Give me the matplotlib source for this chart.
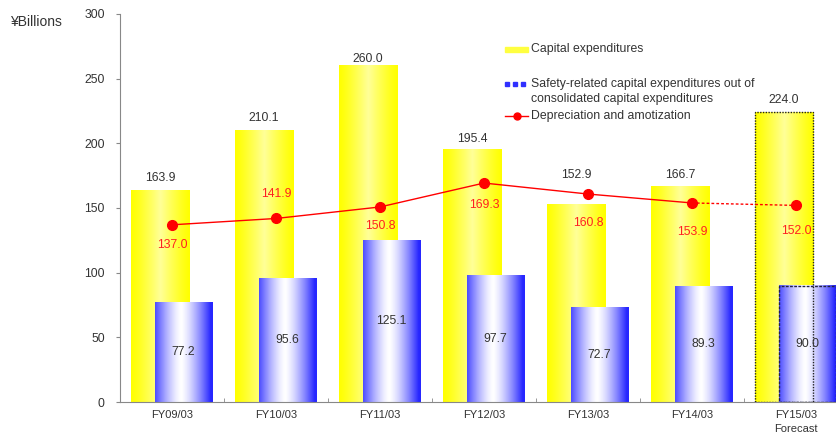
import numpy as np
import matplotlib
matplotlib.use('Agg')
import matplotlib.pyplot as plt
from matplotlib.patches import Rectangle
from matplotlib.lines import Line2D

plt.rcParams['font.family'] = ['Liberation Sans', 'DejaVu Sans']
plt.rcParams['font.size'] = 8.8

# Data
years = ['FY09/03', 'FY10/03', 'FY11/03', 'FY12/03', 'FY13/03', 'FY14/03', 'FY15/03\nForecast']
capex = [163.9, 210.1, 260.0, 195.4, 152.9, 166.7, 224.0]
safety = [77.2, 95.6, 125.1, 97.7, 72.7, 89.3, 90.0]
depreciation = [137.0, 141.9, 150.8, 169.3, 160.8, 153.9, 152.0]

# label offsets in pixels (layout only)
capex_dy = [12, 12, 7, 10, 29, 11, 12]
dep_dy = [-20, 24, -19, -22, -29, -29, -26]

W, H = 836, 436
fig = plt.figure(figsize=(W / 100, H / 100), dpi=100)
ax = fig.add_axes([120 / W, 34 / H, 728 / W, 388 / H])

x = np.arange(len(years))
yel_w, yel_off = 0.56, -0.115
blu_w, blu_off = 0.55, 0.11

# gradients across bar width
t = np.linspace(0, 1, 64)
wy = np.clip(1 - np.abs(t - 0.5) / 0.5, 0, 1) ** 1.2
yellow_grad = np.stack([np.ones_like(t), np.ones_like(t), 0.6 * wy], axis=-1)[None, :, :]
wb = np.clip(1 - (np.abs(t - 0.45) / 0.52) ** 1.4, 0, 1)
blue = np.array([0.15, 0.15, 1.0])
blue_grad = (blue[None, :] * (1 - wb[:, None]) + wb[:, None])[None, :, :]

for i in x:
    x0 = i + yel_off - yel_w / 2
    ax.imshow(yellow_grad, extent=[x0, x0 + yel_w, 0, capex[i]], aspect='auto',
              interpolation='bilinear', zorder=1)
    b0 = i + blu_off - blu_w / 2
    ax.imshow(blue_grad, extent=[b0, b0 + blu_w, 0, safety[i]], aspect='auto',
              interpolation='bilinear', zorder=2)
    ax.annotate(f'{capex[i]:.1f}', (i + yel_off, capex[i]), xytext=(0, capex_dy[i]),
                textcoords='offset pixels', ha='center', va='center', color='#333333', zorder=5)
    ax.text(i + blu_off, safety[i] / 2, f'{safety[i]:.1f}', ha='center', va='center',
            color='#333333', zorder=5)

# forecast outlines
last = len(years) - 1
ax.add_patch(Rectangle((last + yel_off - yel_w / 2, 0), yel_w, capex[last], fill=False,
                       ec='#222222', lw=1, ls=(0, (1, 1)), zorder=3))
ax.add_patch(Rectangle((last + blu_off - blu_w / 2, 0), blu_w, safety[last], fill=False,
                       ec='#222244', lw=1, ls=(0, (2, 1)), zorder=3))

# depreciation line
ax.plot(x[:-1], depreciation[:-1], color='#ff0000', lw=1, marker='o', ms=7, zorder=4)
ax.plot(x[-2:], depreciation[-2:], color='#ff0000', lw=1, ls=(0, (2, 1.5)), zorder=4)
ax.plot(x[-1:], depreciation[-1:], color='#ff0000', marker='o', ms=7, zorder=4)
for i in x:
    ax.annotate(f'{depreciation[i]:.1f}', (i, depreciation[i]), xytext=(0, dep_dy[i]),
                textcoords='offset pixels', ha='center', va='center', color='#ff2020', zorder=5)

ax.set_xlim(-0.5, len(years) - 0.5)
ax.set_ylim(0, 300)
ax.set_yticks(np.arange(0, 301, 50))
ax.set_xticks(x)
ax.set_xticklabels(years, color='#333333', fontsize=8, linespacing=1.4)
ax.set_xticks(np.arange(0.5, len(years) - 0.5, 1), minor=True)
ax.tick_params(axis='x', which='major', length=0, pad=6)
ax.tick_params(axis='x', which='minor', direction='in', length=3, color='#888888')
ax.tick_params(axis='y', length=3, color='#888888', labelcolor='#333333', pad=8)
for s in ['top', 'right']:
    ax.spines[s].set_visible(False)
for s in ['left', 'bottom']:
    ax.spines[s].set_color('#888888')

fig.text(10 / W, 1 - 22 / H, '¥Billions', ha='left', va='center', color='#333333', fontsize=10)

# legend drawn in figure pixels
def fx(px):
    return px / W

def fy(py):
    return 1 - py / H

fig.patches.append(Rectangle((fx(505), fy(52)), fx(23), 5 / H, color='#ffff40',
                             transform=fig.transFigure, figure=fig))
for k in range(3):
    fig.patches.append(Rectangle((fx(505 + k * 8), fy(86)), fx(4), 4 / H, color='#3030ff',
                                 transform=fig.transFigure, figure=fig))
fig.lines.append(Line2D([fx(505), fx(528)], [fy(116), fy(116)], color='#ff0000', lw=1,
                        transform=fig.transFigure, figure=fig))
fig.lines.append(Line2D([fx(517)], [fy(116)], color='#ff0000', marker='o', ms=5,
                        transform=fig.transFigure, figure=fig))
fig.text(fx(531), fy(49), 'Capital expenditures', va='center', color='#333333')
fig.text(fx(531), fy(91.5), 'Safety-related capital expenditures out of\nconsolidated capital expenditures',
         va='center', color='#333333', linespacing=1.3)
fig.text(fx(531), fy(116), 'Depreciation and amotization', va='center', color='#333333')

fig.savefig('out.png', dpi=100)
